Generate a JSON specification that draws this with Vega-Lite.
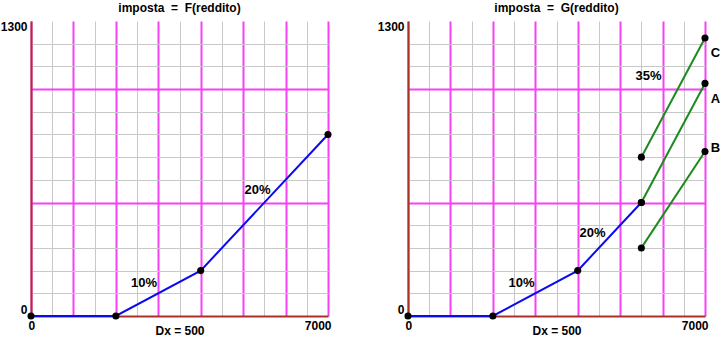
{
  "$schema": "https://vega.github.io/schema/vega-lite/v6.json",
  "padding": {"left": 0, "top": 2, "right": 3, "bottom": 3},
  "config": {"view": {"stroke": null}, "font": "Liberation Sans"},
  "bounds": "flush",
  "spacing": 80,
  "datasets": {
    "F_line": [{"x": 0, "y": 0}, {"x": 2000, "y": 0}, {"x": 4000, "y": 200}, {"x": 7000, "y": 800}],
    "F_labels": [{"x": 2663, "y": 145, "label": "10%"}, {"x": 5338, "y": 555, "label": "20%"}],
    "G_line": [{"x": 0, "y": 0}, {"x": 2000, "y": 0}, {"x": 4000, "y": 200}, {"x": 5500, "y": 500}],
    "G_green": [
      {"s": "C", "x": 5500, "y": 700}, {"s": "C", "x": 7000, "y": 1225},
      {"s": "A", "x": 5500, "y": 500}, {"s": "A", "x": 7000, "y": 1025},
      {"s": "B", "x": 5500, "y": 300}, {"s": "B", "x": 7000, "y": 725}
    ],
    "G_labels": [
      {"x": 2675, "y": 145, "label": "10%"}, {"x": 4349, "y": 366, "label": "20%"},
      {"x": 5668, "y": 1058, "label": "35%"}, {"x": 7248, "y": 1159, "label": "C"},
      {"x": 7248, "y": 956, "label": "A"}, {"x": 7248, "y": 740, "label": "B"}
    ]
  },
  "hconcat": [
    {
      "width": 297, "height": 295,
      "title": {"text": "imposta\u00a0\u00a0=\u00a0\u00a0F(reddito)", "fontSize": 12, "fontWeight": "bold", "offset": 5, "color": "black"},
      "encoding": {
        "x": {"field": "x", "type": "quantitative", "scale": {"domain": [0, 7000], "nice": false},
          "axis": {"values": [0, 500, 1000, 1500, 2000, 2500, 3000, 3500, 4000, 4500, 5000, 5500, 6000, 6500, 7000], "format": "d",
            "labelExpr": "datum.value==0||datum.value==7000?datum.label:''", "labelFlush": true, "labelFlushOffset": 3, "labelOverlap": false,
            "ticks": false, "tickSize": 0, "labelPadding": 4, "labelFontWeight": "bold", "labelFontSize": 12, "labelColor": "black",
            "domainColor": "#a8322a", "domainWidth": 2,
            "gridColor": {"condition": {"test": "datum.value%1000==0", "value": "#f542f5"}, "value": "#c8c8c8"},
            "gridWidth": {"condition": {"test": "datum.value%1000==0", "value": 2}, "value": 1},
            "title": "Dx = 500", "titleFontWeight": "bold", "titleFontSize": 12, "titleColor": "black", "titleY": 9, "titleBaseline": "top"}},
        "y": {"field": "y", "type": "quantitative", "scale": {"domain": [0, 1300], "nice": false},
          "axis": {"values": [0, 100, 200, 300, 400, 500, 600, 700, 800, 900, 1000, 1100, 1200, 1300], "format": "d",
            "labelExpr": "datum.value==0||datum.value==1300?datum.label:''", "labelFlush": true, "labelOverlap": false,
            "ticks": false, "tickSize": 0, "labelPadding": 4, "labelFontWeight": "bold", "labelFontSize": 12, "labelColor": "black",
            "domainColor": "#a8322a", "domainWidth": 2,
            "gridColor": {"condition": {"test": "datum.value==500||datum.value==1000", "value": "#f542f5"}, "value": "#c8c8c8"},
            "gridWidth": {"condition": {"test": "datum.value==500||datum.value==1000", "value": 2}, "value": 1},
            "gridOpacity": {"condition": {"test": "datum.value==1300", "value": 0}, "value": 1},
            "title": null}}
      },
      "layer": [
        {
          "data": {"name": "F_line"},
          "mark": {"type": "line", "color": "#0a0af0", "strokeWidth": 2, "point": {"filled": true, "color": "black", "size": 50, "opacity": 1}}
        },
        {
          "data": {"name": "F_labels"},
          "mark": {"type": "text", "fontWeight": "bold", "fontSize": 13, "color": "black"},
          "encoding": {"text": {"field": "label"}}
        }
      ]
    },
    {
      "width": 297, "height": 295,
      "title": {"text": "imposta\u00a0\u00a0=\u00a0\u00a0G(reddito)", "fontSize": 12, "fontWeight": "bold", "offset": 5, "color": "black"},
      "encoding": {
        "x": {"field": "x", "type": "quantitative", "scale": {"domain": [0, 7000], "nice": false},
          "axis": {"values": [0, 500, 1000, 1500, 2000, 2500, 3000, 3500, 4000, 4500, 5000, 5500, 6000, 6500, 7000], "format": "d",
            "labelExpr": "datum.value==0||datum.value==7000?datum.label:''", "labelFlush": true, "labelFlushOffset": 3, "labelOverlap": false,
            "ticks": false, "tickSize": 0, "labelPadding": 4, "labelFontWeight": "bold", "labelFontSize": 12, "labelColor": "black",
            "domainColor": "#a8322a", "domainWidth": 2,
            "gridColor": {"condition": {"test": "datum.value%1000==0", "value": "#f542f5"}, "value": "#c8c8c8"},
            "gridWidth": {"condition": {"test": "datum.value%1000==0", "value": 2}, "value": 1},
            "title": "Dx = 500", "titleFontWeight": "bold", "titleFontSize": 12, "titleColor": "black", "titleY": 9, "titleBaseline": "top"}},
        "y": {"field": "y", "type": "quantitative", "scale": {"domain": [0, 1300], "nice": false},
          "axis": {"values": [0, 100, 200, 300, 400, 500, 600, 700, 800, 900, 1000, 1100, 1200, 1300], "format": "d",
            "labelExpr": "datum.value==0||datum.value==1300?datum.label:''", "labelFlush": true, "labelOverlap": false,
            "ticks": false, "tickSize": 0, "labelPadding": 4, "labelFontWeight": "bold", "labelFontSize": 12, "labelColor": "black",
            "domainColor": "#a8322a", "domainWidth": 2,
            "gridColor": {"condition": {"test": "datum.value==500||datum.value==1000", "value": "#f542f5"}, "value": "#c8c8c8"},
            "gridWidth": {"condition": {"test": "datum.value==500||datum.value==1000", "value": 2}, "value": 1},
            "gridOpacity": {"condition": {"test": "datum.value==1300", "value": 0}, "value": 1},
            "title": null}}
      },
      "layer": [
        {
          "data": {"name": "G_line"},
          "mark": {"type": "line", "color": "#0a0af0", "strokeWidth": 2, "point": {"filled": true, "color": "black", "size": 50, "opacity": 1}}
        },
        {
          "data": {"name": "G_green"},
          "mark": {"type": "line", "color": "#1c8a1c", "strokeWidth": 2, "point": {"filled": true, "color": "black", "size": 50, "opacity": 1}},
          "encoding": {"detail": {"field": "s"}}
        },
        {
          "data": {"name": "G_labels"},
          "mark": {"type": "text", "fontWeight": "bold", "fontSize": 13, "color": "black"},
          "encoding": {"text": {"field": "label"}}
        }
      ]
    }
  ]
}
